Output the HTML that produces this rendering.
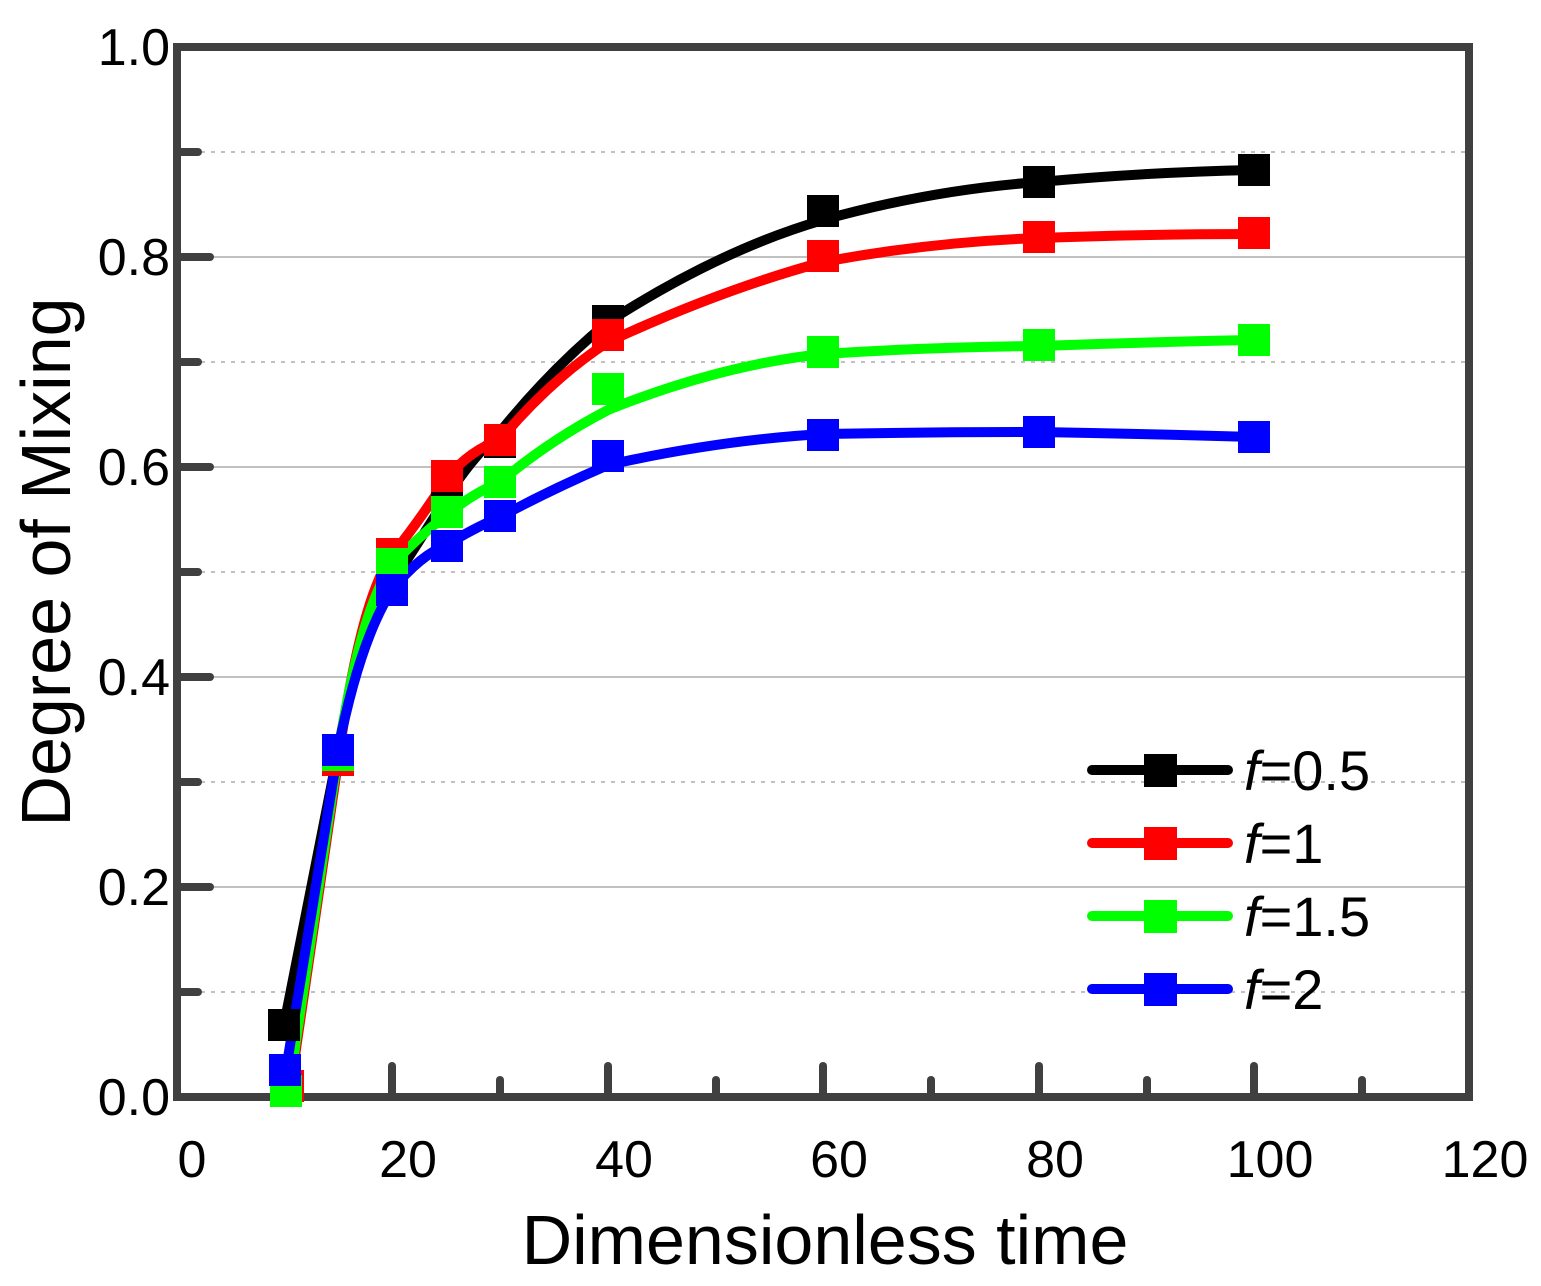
<!DOCTYPE html>
<html><head><style>body{margin:0;background:#fff}svg{display:block}text{font-family:"Liberation Sans",sans-serif}</style></head>
<body>
<svg width="1541" height="1286" viewBox="0 0 1541 1286" xmlns="http://www.w3.org/2000/svg">
<g stroke="#c0c0c0" stroke-width="2">
<line x1="181" x2="1465" y1="152" y2="152" stroke-dasharray="4,6"/>
<line x1="181" x2="1465" y1="257" y2="257"/>
<line x1="181" x2="1465" y1="362" y2="362" stroke-dasharray="4,6"/>
<line x1="181" x2="1465" y1="467" y2="467"/>
<line x1="181" x2="1465" y1="572" y2="572" stroke-dasharray="4,6"/>
<line x1="181" x2="1465" y1="677" y2="677"/>
<line x1="181" x2="1465" y1="782" y2="782" stroke-dasharray="4,6"/>
<line x1="181" x2="1465" y1="887" y2="887"/>
<line x1="181" x2="1465" y1="992" y2="992" stroke-dasharray="4,6"/>
</g>
<g stroke="#404040" stroke-width="8" stroke-linecap="round">
<line x1="181" x2="198" y1="152" y2="152"/><line x1="181" x2="210" y1="257" y2="257"/>
<line x1="181" x2="198" y1="362" y2="362"/><line x1="181" x2="210" y1="467" y2="467"/>
<line x1="181" x2="198" y1="572" y2="572"/><line x1="181" x2="210" y1="677" y2="677"/>
<line x1="181" x2="198" y1="782" y2="782"/><line x1="181" x2="210" y1="887" y2="887"/>
<line x1="181" x2="198" y1="992" y2="992"/>
<line x1="285" x2="285" y1="1093" y2="1080"/><line x1="392" x2="392" y1="1093" y2="1066"/>
<line x1="500" x2="500" y1="1093" y2="1080"/><line x1="608" x2="608" y1="1093" y2="1066"/>
<line x1="716" x2="716" y1="1093" y2="1080"/><line x1="823" x2="823" y1="1093" y2="1066"/>
<line x1="931" x2="931" y1="1093" y2="1080"/><line x1="1039" x2="1039" y1="1093" y2="1066"/>
<line x1="1147" x2="1147" y1="1093" y2="1080"/><line x1="1254" x2="1254" y1="1093" y2="1066"/>
<line x1="1362" x2="1362" y1="1093" y2="1080"/>
</g>
<rect x="177" y="47" width="1292" height="1050" fill="none" stroke="#404040" stroke-width="8"/>
<g fill="none" stroke-width="10" stroke-linejoin="round" stroke-linecap="round">
<path stroke="#000" d="M284,1025 L338,752 Q360,620 392,583 Q420,540 447,497 Q470,460 500,432 Q550,370 608,322 Q720,250 823,220 Q930,190 1039,182 Q1150,172 1254,170"/>
<path stroke="#f00" d="M290,1090 L338,762 Q360,600 392,555 Q420,520 447,478 Q470,450 500,440 Q550,380 608,342 Q720,290 823,262 Q930,242 1039,238 Q1150,234 1254,234"/>
<path stroke="#0f0" d="M288,1095 L338,755 Q360,610 392,565 Q420,535 447,515 Q470,495 500,482 Q550,440 608,410 Q720,365 823,354 Q930,347 1039,346 Q1150,342 1254,340"/>
<path stroke="#00f" d="M286,1070 L338,750 Q360,640 392,590 Q420,555 447,545 Q470,530 500,517 Q550,490 608,465 Q720,440 823,434 Q930,432 1039,432 Q1150,434 1254,437"/>
</g>
<g fill="#000"><rect x="268" y="1009" width="32" height="32"/><rect x="322" y="736" width="32" height="32"/><rect x="376" y="567" width="32" height="32"/><rect x="431" y="474" width="32" height="32"/><rect x="484" y="426" width="32" height="32"/><rect x="592" y="305" width="32" height="32"/><rect x="807" y="195" width="32" height="32"/><rect x="1023" y="166" width="32" height="32"/><rect x="1238" y="154" width="32" height="32"/></g>
<g fill="#f00"><rect x="272" y="1070" width="32" height="32"/><rect x="322" y="744" width="32" height="32"/><rect x="376" y="538" width="32" height="32"/><rect x="431" y="460" width="32" height="32"/><rect x="484" y="424" width="32" height="32"/><rect x="592" y="319" width="32" height="32"/><rect x="807" y="240" width="32" height="32"/><rect x="1023" y="221" width="32" height="32"/><rect x="1238" y="217" width="32" height="32"/></g>
<g fill="#0f0"><rect x="270" y="1075" width="32" height="32"/><rect x="322" y="739" width="32" height="32"/><rect x="376" y="548" width="32" height="32"/><rect x="431" y="496" width="32" height="32"/><rect x="484" y="466" width="32" height="32"/><rect x="592" y="373" width="32" height="32"/><rect x="807" y="336" width="32" height="32"/><rect x="1023" y="329" width="32" height="32"/><rect x="1238" y="324" width="32" height="32"/></g>
<g fill="#00f"><rect x="269" y="1054" width="32" height="32"/><rect x="322" y="734" width="32" height="32"/><rect x="376" y="574" width="32" height="32"/><rect x="431" y="530" width="32" height="32"/><rect x="484" y="500" width="32" height="32"/><rect x="592" y="440" width="32" height="32"/><rect x="807" y="419" width="32" height="32"/><rect x="1023" y="416" width="32" height="32"/><rect x="1238" y="421" width="32" height="32"/></g>
<g stroke-width="10" stroke-linecap="round">
<line x1="1092" x2="1228" y1="770" y2="770" stroke="#000"/><rect x="1144" y="754" width="33" height="33" fill="#000"/>
<line x1="1092" x2="1228" y1="843" y2="843" stroke="#f00"/><rect x="1144" y="827" width="33" height="33" fill="#f00"/>
<line x1="1092" x2="1228" y1="916" y2="916" stroke="#0f0"/><rect x="1144" y="900" width="33" height="33" fill="#0f0"/>
<line x1="1092" x2="1228" y1="989" y2="989" stroke="#00f"/><rect x="1144" y="973" width="33" height="33" fill="#00f"/>
</g>
<g font-size="56" fill="#000">
<text x="1244" y="790"><tspan font-style="italic">f</tspan>=0.5</text>
<text x="1244" y="863"><tspan font-style="italic">f</tspan>=1</text>
<text x="1244" y="936"><tspan font-style="italic">f</tspan>=1.5</text>
<text x="1244" y="1009"><tspan font-style="italic">f</tspan>=2</text>
</g>
<g font-size="52" text-anchor="end">
<text x="170" y="65">1.0</text><text x="170" y="275">0.8</text><text x="170" y="485">0.6</text><text x="170" y="695">0.4</text><text x="170" y="905">0.2</text><text x="170" y="1115">0.0</text>
</g>
<g font-size="52" text-anchor="middle">
<text x="192" y="1177">0</text><text x="408" y="1177">20</text><text x="624" y="1177">40</text><text x="839" y="1177">60</text><text x="1055" y="1177">80</text><text x="1270" y="1177">100</text><text x="1485" y="1177">120</text>
</g>
<text x="825" y="1264" font-size="70" text-anchor="middle">Dimensionless time</text>
<text transform="translate(70,562) rotate(-90)" font-size="70" text-anchor="middle">Degree of Mixing</text>
</svg>
</body></html>
